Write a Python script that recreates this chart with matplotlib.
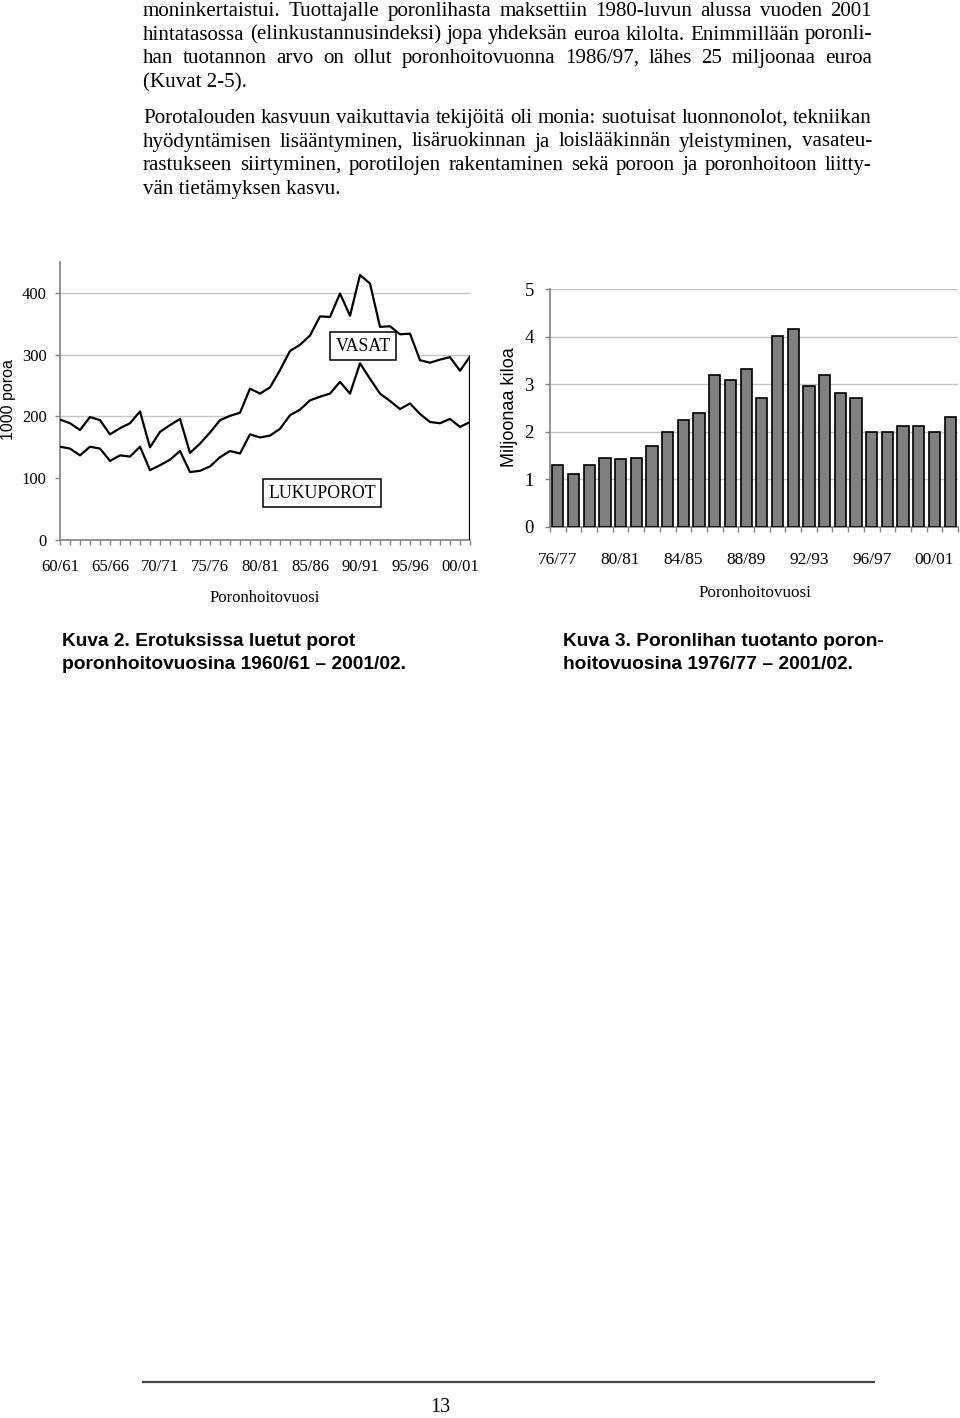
import matplotlib.pyplot as plt
import numpy as np

# Kuva 2: erotuksissa luetut porot (1000 poroa), 1960/61 - 2001/02
lukuporot = [151, 148, 137, 151, 148, 128, 137, 135, 151, 113, 121, 130, 144, 110,
             112, 119, 134, 144, 140, 171, 166, 169, 180, 202, 211, 226, 232, 237,
             256, 237, 286, 261, 237, 225, 212, 221, 204, 191, 189, 196, 183, 191]
vasat = [44, 41, 41, 48, 46, 43, 44, 54, 57, 37, 54, 56, 52, 31, 44, 55, 60, 57,
         66, 74, 71, 78, 95, 104, 105, 105, 130, 124, 143, 126, 143, 154, 108, 121,
         121, 113, 87, 96, 103, 100, 91, 106]
left_ticklabels = ['60/61', '65/66', '70/71', '75/76', '80/81', '85/86', '90/91', '95/96', '00/01']

# Kuva 3: poronlihan tuotanto (miljoonaa kiloa), 1976/77 - 2001/02
liha = [1.30, 1.11, 1.30, 1.45, 1.43, 1.45, 1.71, 2.00, 2.24, 2.40, 3.19, 3.08, 3.33,
        2.72, 4.01, 4.17, 2.96, 3.19, 2.82, 2.72, 2.00, 2.00, 2.13, 2.13, 2.00, 2.32]
right_ticklabels = ['76/77', '80/81', '84/85', '88/89', '92/93', '96/97', '00/01']

para1 = ["moninkertaistui. Tuottajalle poronlihasta maksettiin 1980-luvun alussa vuoden 2001",
         "hintatasossa (elinkustannusindeksi) jopa yhdeksän euroa kilolta. Enimmillään poronli-",
         "han tuotannon arvo on ollut poronhoitovuonna 1986/97, lähes 25 miljoonaa euroa",
         "(Kuvat 2-5)."]
para2 = ["Porotalouden kasvuun vaikuttavia tekijöitä oli monia: suotuisat luonnonolot, tekniikan",
         "hyödyntämisen lisääntyminen, lisäruokinnan ja loislääkinnän yleistyminen, vasateu-",
         "rastukseen siirtyminen, porotilojen rakentaminen sekä poroon ja poronhoitoon liitty-",
         "vän tietämyksen kasvu."]

W, H = 960, 1418
fig = plt.figure(figsize=(W / 100, H / 100), dpi=100)
SERIF = 'Liberation Serif'
SANS = 'Liberation Sans'
GRAY = '#808080'
GRID = '#c4c4c4'
BODY = 15.1


def fx(x):
    return x / W


def fy(y):
    return 1 - y / H


def px_axes(l, t, r, b):
    return fig.add_axes([l / W, 1 - b / H, (r - l) / W, (b - t) / H])


def style_axes(ax):
    for s in ['top', 'right']:
        ax.spines[s].set_visible(False)
    for s in ['left', 'bottom']:
        ax.spines[s].set_color(GRAY)
        ax.spines[s].set_linewidth(1.2)
    ax.yaxis.grid(True, color=GRID, lw=1)
    ax.set_axisbelow(True)
    ax.tick_params(which='both', direction='out', color=GRAY, length=3.6, width=1)


# ---- left chart ----
ax1 = px_axes(60, 262, 470, 540)
x = np.arange(len(lukuporot))
luku = np.array(lukuporot)
total = luku + np.array(vasat)
ax1.fill_between(x, 0, total, color='white', zorder=2)
ax1.plot(x, luku, color='k', lw=1.6, zorder=3)
ax1.plot(x, total, color='k', lw=1.6, zorder=3)
ax1.vlines(x[-1], 0, total[-1], color='k', lw=1.6, zorder=3)
ax1.set_xlim(0, len(x) - 1)
ax1.set_ylim(0, 450)
style_axes(ax1)
ax1.set_yticks([0, 100, 200, 300, 400])
ax1.set_xticks(range(0, 41, 5))
ax1.set_xticklabels(left_ticklabels)
ax1.set_xticks(x, minor=True)
ax1.tick_params(axis='x', pad=10)
ax1.tick_params(axis='y', pad=6)
for lab in ax1.get_xticklabels() + ax1.get_yticklabels():
    lab.set_fontfamily(SERIF)
    lab.set_fontsize(12)
box = dict(boxstyle='square,pad=0.3', facecolor='white', edgecolor='k', lw=1.1)
ax1.text(30.3, 314, 'VASAT', family=SERIF, fontsize=12.8, ha='center', va='center',
         bbox=box, zorder=5)
ax1.text(26.2, 76, 'LUKUPOROT', family=SERIF, fontsize=12.8, ha='center', va='center',
         bbox=box, zorder=5)
fig.text(fx(9), fy(400), '1000 poroa', family=SANS, fontsize=11.5, rotation=90,
         ha='center', va='center')
fig.text(fx(265), fy(598), 'Poronhoitovuosi', family=SERIF, fontsize=12,
         ha='center', va='center')

# ---- right chart ----
ax2 = px_axes(550, 289.3, 958, 526.7)
xb = np.arange(len(liha))
ax2.bar(xb, liha, width=0.72, color=GRAY, edgecolor='k', lw=1.2, zorder=3)
ax2.set_xlim(-0.5, len(liha) - 0.5)
ax2.set_ylim(0, 5)
style_axes(ax2)
ax2.set_yticks(range(6))
ax2.set_xticks(np.arange(-0.5, len(liha)))
ax2.set_xticklabels([])
ax2.set_xticks(range(0, 25, 4), minor=True)
ax2.set_xticklabels(right_ticklabels, minor=True)
ax2.tick_params(axis='x', which='minor', length=0, pad=18)
ax2.tick_params(axis='y', pad=8)
for lab in ax2.get_xticklabels(minor=True):
    lab.set_fontfamily(SERIF)
    lab.set_fontsize(12.5)
for lab in ax2.get_yticklabels():
    lab.set_fontfamily(SERIF)
    lab.set_fontsize(13.5)
fig.text(fx(510), fy(407), 'Miljoonaa kiloa', family=SANS, fontsize=13, rotation=90,
         ha='center', va='center')
fig.text(fx(755), fy(593), 'Poronhoitovuosi', family=SERIF, fontsize=12.3,
         ha='center', va='center')

# ---- captions ----
cap = dict(family=SANS, fontsize=13.8, fontweight='bold', va='baseline')
fig.text(fx(62), fy(646), 'Kuva 2. Erotuksissa luetut porot', **cap)
fig.text(fx(62), fy(669), 'poronhoitovuosina 1960/61 – 2001/02.', **cap)
fig.text(fx(563), fy(646), 'Kuva 3. Poronlihan tuotanto poron-', **cap)
fig.text(fx(563), fy(669), 'hoitovuosina 1976/77 – 2001/02.', **cap)

# ---- body text, justified ----
x0, x1 = 143, 872
renderer = fig.canvas.get_renderer()


def justified(lines, baselines):
    for i, (line, b) in enumerate(zip(lines, baselines)):
        if i == len(lines) - 1:
            fig.text(fx(x0), fy(b), line, family=SERIF, fontsize=BODY, va='baseline')
            continue
        words = line.split()
        texts = [fig.text(0, fy(b), w, family=SERIF, fontsize=BODY, va='baseline')
                 for w in words]
        widths = [t.get_window_extent(renderer).width for t in texts]
        gap = (x1 - x0 - sum(widths)) / (len(words) - 1)
        pos = x0
        for t, w in zip(texts, widths):
            t.set_x(fx(pos))
            pos += w + gap


justified(para1, [16, 39.5, 63, 87])
justified(para2, [123, 146.5, 170, 194])

# ---- footer ----
fig.add_artist(plt.Line2D([fx(143), fx(874)], [fy(1382), fy(1382)], color='#444444', lw=1.6))
fig.text(fx(440), fy(1408), '13', family=SERIF, fontsize=14.5, ha='center', va='center')

fig.savefig('out.png', dpi=100)
